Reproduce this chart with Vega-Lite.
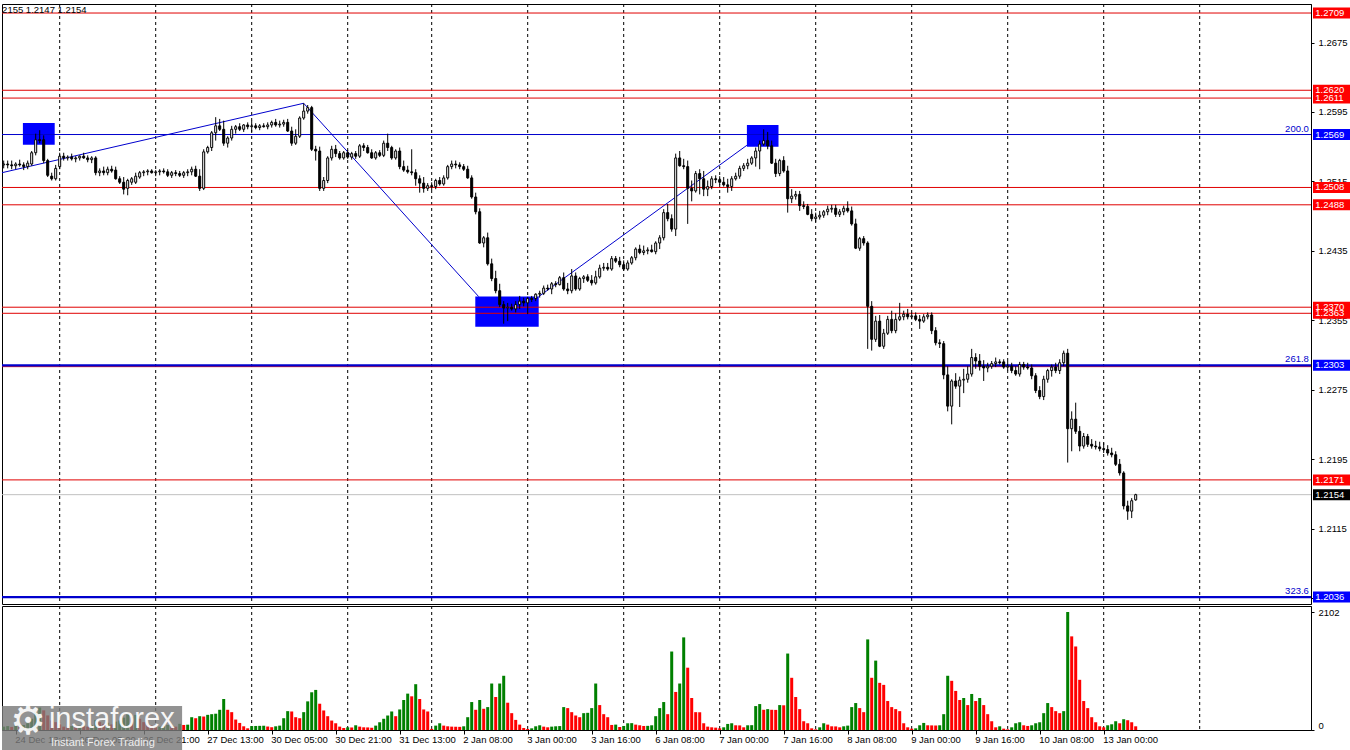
{
"$schema": "https://vega.github.io/schema/vega-lite/v6.json",
"padding": {"left": 0, "top": 3, "right": 0, "bottom": 0},
"background": "white",
"spacing": 2,
"bounds": "flush",
"resolve": {"scale": {"color": "independent"}},
"config": {
  "view": {"stroke": "black", "strokeWidth": 1},
  "axis": {"labelFont": "Liberation Sans", "labelFontSize": 9.5, "labelColor": "black", "domainColor": "black", "tickColor": "black", "grid": false, "tickSize": 3, "labelPadding": 4},
  "text": {"font": "Liberation Sans", "fontSize": 9.5}
},
"datasets": {
"days": [{"d":14},{"d":38},{"d":62},{"d":86},{"d":107},{"d":131},{"d":155},{"d":179},{"d":203},{"d":227},{"d":251},{"d":275},{"d":299}],
"lv": [
{"p":1.2709,"kind":"level"},{"p":1.2620,"kind":"level"},{"p":1.2611,"kind":"level"},{"p":1.2508,"kind":"level"},{"p":1.2488,"kind":"level"},{"p":1.2370,"kind":"level"},{"p":1.2363,"kind":"level"},{"p":1.23015,"kind":"level"},{"p":1.2171,"kind":"level"},
{"p":1.2569,"kind":"fib","f":"200.0"},{"p":1.2303,"kind":"fib","f":"261.8"},{"p":1.2036,"kind":"fib","f":"323.6"},
{"p":1.2154,"kind":"bid"}],
"bx": [
{"p":1.2709,"t":"1.2709","kind":"level"},{"p":1.2611,"t":"1.2611","kind":"level"},{"p":1.2620,"t":"1.2620","kind":"level"},{"p":1.2569,"t":"1.2569","kind":"fib"},{"p":1.2508,"t":"1.2508","kind":"level"},{"p":1.2488,"t":"1.2488","kind":"level"},{"p":1.2363,"t":"1.2363","kind":"level"},{"p":1.2370,"t":"1.2370","kind":"level"},{"p":1.2303,"t":"1.2303","kind":"fib"},{"p":1.2171,"t":"1.2171","kind":"level"},{"p":1.2154,"t":"1.2154","kind":"bid"},{"p":1.2036,"t":"1.2036","kind":"fib"}],
"fr": [
{"x1":4.8,"x2":12.75,"y1":1.25823,"y2":1.25573},
{"x1":185.8,"x2":193.7,"y1":1.25800,"y2":1.25550},
{"x1":117.9,"x2":133.75,"y1":1.23822,"y2":1.23476}],
"tl": [
{"x1":-0.425,"x2":75.0,"y1":1.25250,"y2":1.26050},
{"x1":75.0,"x2":118.75,"y1":1.26050,"y2":1.23822},
{"x1":133.75,"x2":185.8,"y1":1.23822,"y2":1.25566}],
"c": [
{"i":0,"o":1.2534,"h":1.2539,"l":1.2530,"c":1.2535,"v":60},
{"i":1,"o":1.2535,"h":1.2539,"l":1.2530,"c":1.2534,"v":70},
{"i":2,"o":1.2534,"h":1.2539,"l":1.2529,"c":1.2533,"v":55},
{"i":3,"o":1.2533,"h":1.2537,"l":1.2529,"c":1.2535,"v":80},
{"i":4,"o":1.2535,"h":1.2540,"l":1.2532,"c":1.2534,"v":65},
{"i":5,"o":1.2534,"h":1.2537,"l":1.2528,"c":1.2532,"v":90},
{"i":6,"o":1.2532,"h":1.2539,"l":1.2529,"c":1.2536,"v":120},
{"i":7,"o":1.2535,"h":1.2550,"l":1.2533,"c":1.2548,"v":200},
{"i":8,"o":1.2548,"h":1.2570,"l":1.2545,"c":1.2563,"v":330},
{"i":9,"o":1.2563,"h":1.2574,"l":1.2559,"c":1.2562,"v":400},
{"i":10,"o":1.2563,"h":1.2568,"l":1.2536,"c":1.2539,"v":350},
{"i":11,"o":1.2539,"h":1.2541,"l":1.2520,"c":1.2522,"v":260},
{"i":12,"o":1.2521,"h":1.2525,"l":1.2516,"c":1.2518,"v":170},
{"i":13,"o":1.2518,"h":1.2534,"l":1.2516,"c":1.2530,"v":140},
{"i":14,"o":1.2532,"h":1.2548,"l":1.2529,"c":1.2544,"v":100},
{"i":15,"o":1.2544,"h":1.2548,"l":1.2539,"c":1.2542,"v":60},
{"i":16,"o":1.2542,"h":1.2545,"l":1.2539,"c":1.2543,"v":50},
{"i":17,"o":1.2543,"h":1.2547,"l":1.2539,"c":1.2541,"v":70},
{"i":18,"o":1.2541,"h":1.2544,"l":1.2537,"c":1.2542,"v":55},
{"i":19,"o":1.2542,"h":1.2545,"l":1.2539,"c":1.2544,"v":80},
{"i":20,"o":1.2544,"h":1.2548,"l":1.2541,"c":1.2542,"v":70},
{"i":21,"o":1.2542,"h":1.2545,"l":1.2537,"c":1.2540,"v":60},
{"i":22,"o":1.2540,"h":1.2544,"l":1.2536,"c":1.2542,"v":90},
{"i":23,"o":1.2542,"h":1.2544,"l":1.2522,"c":1.2525,"v":180},
{"i":24,"o":1.2525,"h":1.2530,"l":1.2521,"c":1.2527,"v":140},
{"i":25,"o":1.2527,"h":1.2532,"l":1.2522,"c":1.2525,"v":110},
{"i":26,"o":1.2525,"h":1.2532,"l":1.2522,"c":1.2529,"v":130},
{"i":27,"o":1.2529,"h":1.2533,"l":1.2525,"c":1.2527,"v":100},
{"i":28,"o":1.2528,"h":1.2532,"l":1.2517,"c":1.2518,"v":150},
{"i":29,"o":1.2518,"h":1.2521,"l":1.2512,"c":1.2514,"v":170},
{"i":30,"o":1.2514,"h":1.2520,"l":1.2500,"c":1.2506,"v":220},
{"i":31,"o":1.2507,"h":1.2518,"l":1.2499,"c":1.2516,"v":280},
{"i":32,"o":1.2514,"h":1.2520,"l":1.2511,"c":1.2518,"v":230},
{"i":33,"o":1.2514,"h":1.2525,"l":1.2512,"c":1.2521,"v":270},
{"i":34,"o":1.2520,"h":1.2527,"l":1.2518,"c":1.2525,"v":200},
{"i":35,"o":1.2525,"h":1.2528,"l":1.2521,"c":1.2526,"v":140},
{"i":36,"o":1.2526,"h":1.2529,"l":1.2522,"c":1.2527,"v":100},
{"i":37,"o":1.2527,"h":1.2529,"l":1.2524,"c":1.2525,"v":80},
{"i":38,"o":1.2525,"h":1.2528,"l":1.2521,"c":1.2526,"v":50},
{"i":39,"o":1.2526,"h":1.2529,"l":1.2522,"c":1.2527,"v":60},
{"i":40,"o":1.2527,"h":1.2530,"l":1.2524,"c":1.2526,"v":70},
{"i":41,"o":1.2526,"h":1.2529,"l":1.2520,"c":1.2522,"v":90},
{"i":42,"o":1.2522,"h":1.2527,"l":1.2519,"c":1.2525,"v":75},
{"i":43,"o":1.2525,"h":1.2528,"l":1.2521,"c":1.2524,"v":60},
{"i":44,"o":1.2524,"h":1.2527,"l":1.2520,"c":1.2522,"v":110},
{"i":45,"o":1.2522,"h":1.2527,"l":1.2519,"c":1.2525,"v":90},
{"i":46,"o":1.2525,"h":1.2529,"l":1.2521,"c":1.2526,"v":95},
{"i":47,"o":1.2526,"h":1.2532,"l":1.2522,"c":1.2529,"v":228},
{"i":48,"o":1.2529,"h":1.2533,"l":1.2520,"c":1.2521,"v":210},
{"i":49,"o":1.2521,"h":1.2529,"l":1.2504,"c":1.2507,"v":246},
{"i":50,"o":1.2507,"h":1.2552,"l":1.2505,"c":1.2549,"v":240},
{"i":51,"o":1.2549,"h":1.2556,"l":1.2547,"c":1.2554,"v":270},
{"i":52,"o":1.2554,"h":1.2573,"l":1.2550,"c":1.2571,"v":282},
{"i":53,"o":1.2571,"h":1.2589,"l":1.2562,"c":1.2579,"v":290},
{"i":54,"o":1.2579,"h":1.2587,"l":1.2573,"c":1.2575,"v":360},
{"i":55,"o":1.2575,"h":1.2585,"l":1.2556,"c":1.2559,"v":552},
{"i":56,"o":1.2559,"h":1.2567,"l":1.2554,"c":1.2565,"v":360},
{"i":57,"o":1.2565,"h":1.2579,"l":1.2562,"c":1.2575,"v":318},
{"i":58,"o":1.2575,"h":1.2580,"l":1.2570,"c":1.2578,"v":186},
{"i":59,"o":1.2578,"h":1.2582,"l":1.2573,"c":1.2575,"v":126},
{"i":60,"o":1.2575,"h":1.2581,"l":1.2572,"c":1.2580,"v":66},
{"i":61,"o":1.2580,"h":1.2583,"l":1.2575,"c":1.2578,"v":30},
{"i":62,"o":1.2578,"h":1.2585,"l":1.2572,"c":1.2579,"v":70},
{"i":63,"o":1.2579,"h":1.2582,"l":1.2575,"c":1.2577,"v":72},
{"i":64,"o":1.2577,"h":1.2581,"l":1.2574,"c":1.2579,"v":74},
{"i":65,"o":1.2579,"h":1.2582,"l":1.2577,"c":1.2578,"v":76},
{"i":66,"o":1.2578,"h":1.2583,"l":1.2575,"c":1.2580,"v":62},
{"i":67,"o":1.2580,"h":1.2585,"l":1.2577,"c":1.2583,"v":50},
{"i":68,"o":1.2583,"h":1.2587,"l":1.2578,"c":1.2580,"v":66},
{"i":69,"o":1.2580,"h":1.2585,"l":1.2577,"c":1.2581,"v":78},
{"i":70,"o":1.2581,"h":1.2586,"l":1.2578,"c":1.2583,"v":210},
{"i":71,"o":1.2583,"h":1.2587,"l":1.2572,"c":1.2573,"v":336},
{"i":72,"o":1.2573,"h":1.2578,"l":1.2556,"c":1.2559,"v":330},
{"i":73,"o":1.2559,"h":1.2575,"l":1.2557,"c":1.2567,"v":228},
{"i":74,"o":1.2567,"h":1.2590,"l":1.2565,"c":1.2588,"v":210},
{"i":75,"o":1.2588,"h":1.2605,"l":1.2586,"c":1.2596,"v":318},
{"i":76,"o":1.2596,"h":1.2603,"l":1.2593,"c":1.2600,"v":510},
{"i":77,"o":1.2600,"h":1.2602,"l":1.2550,"c":1.2552,"v":672},
{"i":78,"o":1.2552,"h":1.2556,"l":1.2539,"c":1.2550,"v":714},
{"i":79,"o":1.2550,"h":1.2555,"l":1.2504,"c":1.2507,"v":468},
{"i":80,"o":1.2507,"h":1.2520,"l":1.2504,"c":1.2516,"v":348},
{"i":81,"o":1.2516,"h":1.2544,"l":1.2513,"c":1.2542,"v":246},
{"i":82,"o":1.2542,"h":1.2556,"l":1.2539,"c":1.2552,"v":168},
{"i":83,"o":1.2552,"h":1.2557,"l":1.2543,"c":1.2547,"v":120},
{"i":84,"o":1.2547,"h":1.2550,"l":1.2540,"c":1.2542,"v":60},
{"i":85,"o":1.2542,"h":1.2550,"l":1.2540,"c":1.2548,"v":36},
{"i":86,"o":1.2548,"h":1.2551,"l":1.2541,"c":1.2543,"v":48},
{"i":87,"o":1.2543,"h":1.2549,"l":1.2540,"c":1.2547,"v":45},
{"i":88,"o":1.2547,"h":1.2550,"l":1.2541,"c":1.2544,"v":84},
{"i":89,"o":1.2544,"h":1.2558,"l":1.2542,"c":1.2556,"v":60},
{"i":90,"o":1.2556,"h":1.2559,"l":1.2550,"c":1.2554,"v":48},
{"i":91,"o":1.2554,"h":1.2557,"l":1.2547,"c":1.2548,"v":46},
{"i":92,"o":1.2548,"h":1.2552,"l":1.2541,"c":1.2542,"v":40},
{"i":93,"o":1.2542,"h":1.2550,"l":1.2540,"c":1.2548,"v":78},
{"i":94,"o":1.2548,"h":1.2551,"l":1.2543,"c":1.2545,"v":138},
{"i":95,"o":1.2545,"h":1.2562,"l":1.2543,"c":1.2559,"v":200},
{"i":96,"o":1.2559,"h":1.2570,"l":1.2550,"c":1.2554,"v":258},
{"i":97,"o":1.2554,"h":1.2556,"l":1.2540,"c":1.2542,"v":330},
{"i":98,"o":1.2542,"h":1.2552,"l":1.2540,"c":1.2550,"v":246},
{"i":99,"o":1.2550,"h":1.2554,"l":1.2529,"c":1.2532,"v":366},
{"i":100,"o":1.2532,"h":1.2539,"l":1.2526,"c":1.2528,"v":534},
{"i":101,"o":1.2528,"h":1.2533,"l":1.2524,"c":1.2526,"v":648},
{"i":102,"o":1.2526,"h":1.2552,"l":1.2522,"c":1.2525,"v":600},
{"i":103,"o":1.2525,"h":1.2529,"l":1.2510,"c":1.2518,"v":816},
{"i":104,"o":1.2518,"h":1.2522,"l":1.2502,"c":1.2513,"v":552},
{"i":105,"o":1.2513,"h":1.2520,"l":1.2502,"c":1.2507,"v":366},
{"i":106,"o":1.2507,"h":1.2513,"l":1.2504,"c":1.2510,"v":330},
{"i":107,"o":1.2510,"h":1.2514,"l":1.2505,"c":1.2509,"v":20},
{"i":108,"o":1.2509,"h":1.2518,"l":1.2506,"c":1.2516,"v":78},
{"i":109,"o":1.2516,"h":1.2520,"l":1.2510,"c":1.2512,"v":120},
{"i":110,"o":1.2512,"h":1.2522,"l":1.2510,"c":1.2519,"v":78},
{"i":111,"o":1.2519,"h":1.2534,"l":1.2517,"c":1.2532,"v":66},
{"i":112,"o":1.2532,"h":1.2539,"l":1.2529,"c":1.2535,"v":60},
{"i":113,"o":1.2535,"h":1.2539,"l":1.2530,"c":1.2534,"v":58},
{"i":114,"o":1.2534,"h":1.2537,"l":1.2529,"c":1.2532,"v":56},
{"i":115,"o":1.2532,"h":1.2535,"l":1.2527,"c":1.2529,"v":66},
{"i":116,"o":1.2529,"h":1.2533,"l":1.2518,"c":1.2519,"v":228},
{"i":117,"o":1.2519,"h":1.2522,"l":1.2495,"c":1.2497,"v":498},
{"i":118,"o":1.2497,"h":1.2502,"l":1.2477,"c":1.2480,"v":360},
{"i":119,"o":1.2480,"h":1.2484,"l":1.2443,"c":1.2444,"v":534},
{"i":120,"o":1.2444,"h":1.2452,"l":1.2439,"c":1.2450,"v":378},
{"i":121,"o":1.2450,"h":1.2456,"l":1.2418,"c":1.2420,"v":408},
{"i":122,"o":1.2420,"h":1.2426,"l":1.2400,"c":1.2403,"v":828},
{"i":123,"o":1.2403,"h":1.2412,"l":1.2386,"c":1.2389,"v":588},
{"i":124,"o":1.2389,"h":1.2397,"l":1.2370,"c":1.2373,"v":828},
{"i":125,"o":1.2373,"h":1.2377,"l":1.2351,"c":1.2369,"v":966},
{"i":126,"o":1.2369,"h":1.2375,"l":1.2354,"c":1.2370,"v":486},
{"i":127,"o":1.2370,"h":1.2374,"l":1.2366,"c":1.2368,"v":300},
{"i":128,"o":1.2368,"h":1.2377,"l":1.2364,"c":1.2373,"v":180},
{"i":129,"o":1.2373,"h":1.2383,"l":1.2368,"c":1.2377,"v":96},
{"i":130,"o":1.2377,"h":1.2381,"l":1.2371,"c":1.2375,"v":36},
{"i":131,"o":1.2375,"h":1.2382,"l":1.2362,"c":1.2380,"v":18},
{"i":132,"o":1.2380,"h":1.2383,"l":1.2376,"c":1.2379,"v":30},
{"i":133,"o":1.2380,"h":1.2386,"l":1.2377,"c":1.2385,"v":66},
{"i":134,"o":1.2385,"h":1.2389,"l":1.2381,"c":1.2386,"v":84},
{"i":135,"o":1.2386,"h":1.2395,"l":1.2384,"c":1.2392,"v":60},
{"i":136,"o":1.2392,"h":1.2396,"l":1.2389,"c":1.2391,"v":48},
{"i":137,"o":1.2391,"h":1.2399,"l":1.2385,"c":1.2397,"v":60},
{"i":138,"o":1.2397,"h":1.2400,"l":1.2393,"c":1.2396,"v":66},
{"i":139,"o":1.2396,"h":1.2406,"l":1.2395,"c":1.2404,"v":70},
{"i":140,"o":1.2404,"h":1.2410,"l":1.2389,"c":1.2391,"v":408},
{"i":141,"o":1.2391,"h":1.2398,"l":1.2385,"c":1.2389,"v":390},
{"i":142,"o":1.2389,"h":1.2414,"l":1.2386,"c":1.2406,"v":318},
{"i":143,"o":1.2406,"h":1.2410,"l":1.2389,"c":1.2391,"v":258},
{"i":144,"o":1.2391,"h":1.2405,"l":1.2389,"c":1.2403,"v":228},
{"i":145,"o":1.2403,"h":1.2407,"l":1.2398,"c":1.2405,"v":300},
{"i":146,"o":1.2405,"h":1.2408,"l":1.2399,"c":1.2401,"v":306},
{"i":147,"o":1.2401,"h":1.2407,"l":1.2395,"c":1.2398,"v":390},
{"i":148,"o":1.2398,"h":1.2412,"l":1.2396,"c":1.2405,"v":828},
{"i":149,"o":1.2405,"h":1.2419,"l":1.2403,"c":1.2415,"v":444},
{"i":150,"o":1.2415,"h":1.2421,"l":1.2412,"c":1.2416,"v":282},
{"i":151,"o":1.2416,"h":1.2421,"l":1.2412,"c":1.2414,"v":228},
{"i":152,"o":1.2414,"h":1.2429,"l":1.2412,"c":1.2426,"v":90},
{"i":153,"o":1.2426,"h":1.2429,"l":1.2421,"c":1.2423,"v":96},
{"i":154,"o":1.2423,"h":1.2428,"l":1.2416,"c":1.2419,"v":54},
{"i":155,"o":1.2419,"h":1.2424,"l":1.2412,"c":1.2414,"v":72},
{"i":156,"o":1.2414,"h":1.2424,"l":1.2412,"c":1.2421,"v":120},
{"i":157,"o":1.2421,"h":1.2429,"l":1.2419,"c":1.2427,"v":122},
{"i":158,"o":1.2427,"h":1.2439,"l":1.2424,"c":1.2437,"v":96},
{"i":159,"o":1.2437,"h":1.2442,"l":1.2431,"c":1.2433,"v":84},
{"i":160,"o":1.2433,"h":1.2441,"l":1.2430,"c":1.2435,"v":72},
{"i":161,"o":1.2435,"h":1.2439,"l":1.2431,"c":1.2436,"v":74},
{"i":162,"o":1.2436,"h":1.2442,"l":1.2433,"c":1.2434,"v":84},
{"i":163,"o":1.2434,"h":1.2446,"l":1.2431,"c":1.2444,"v":246},
{"i":164,"o":1.2444,"h":1.2453,"l":1.2437,"c":1.2450,"v":390},
{"i":165,"o":1.2450,"h":1.2483,"l":1.2447,"c":1.2479,"v":498},
{"i":166,"o":1.2479,"h":1.2489,"l":1.2469,"c":1.2472,"v":282},
{"i":167,"o":1.2472,"h":1.2477,"l":1.2457,"c":1.2460,"v":1398},
{"i":168,"o":1.2460,"h":1.2547,"l":1.2452,"c":1.2542,"v":678},
{"i":169,"o":1.2542,"h":1.2550,"l":1.2532,"c":1.2533,"v":828},
{"i":170,"o":1.2533,"h":1.2541,"l":1.2529,"c":1.2532,"v":1650},
{"i":171,"o":1.2532,"h":1.2539,"l":1.2466,"c":1.2507,"v":1110},
{"i":172,"o":1.2507,"h":1.2516,"l":1.2492,"c":1.2504,"v":570},
{"i":173,"o":1.2504,"h":1.2527,"l":1.2502,"c":1.2524,"v":318},
{"i":174,"o":1.2524,"h":1.2529,"l":1.2500,"c":1.2518,"v":316},
{"i":175,"o":1.2518,"h":1.2527,"l":1.2498,"c":1.2506,"v":120},
{"i":176,"o":1.2506,"h":1.2516,"l":1.2498,"c":1.2509,"v":60},
{"i":177,"o":1.2509,"h":1.2521,"l":1.2506,"c":1.2518,"v":48},
{"i":178,"o":1.2518,"h":1.2522,"l":1.2513,"c":1.2517,"v":42},
{"i":179,"o":1.2517,"h":1.2521,"l":1.2511,"c":1.2514,"v":30},
{"i":180,"o":1.2514,"h":1.2520,"l":1.2509,"c":1.2511,"v":48},
{"i":181,"o":1.2511,"h":1.2518,"l":1.2502,"c":1.2509,"v":108},
{"i":182,"o":1.2509,"h":1.2521,"l":1.2504,"c":1.2518,"v":120},
{"i":183,"o":1.2518,"h":1.2525,"l":1.2516,"c":1.2521,"v":84},
{"i":184,"o":1.2521,"h":1.2533,"l":1.2518,"c":1.2530,"v":82},
{"i":185,"o":1.2530,"h":1.2536,"l":1.2527,"c":1.2533,"v":48},
{"i":186,"o":1.2533,"h":1.2541,"l":1.2529,"c":1.2536,"v":84},
{"i":187,"o":1.2536,"h":1.2544,"l":1.2534,"c":1.2542,"v":86},
{"i":188,"o":1.2542,"h":1.2554,"l":1.2532,"c":1.2550,"v":426},
{"i":189,"o":1.2550,"h":1.2562,"l":1.2529,"c":1.2558,"v":462},
{"i":190,"o":1.2558,"h":1.2575,"l":1.2556,"c":1.2562,"v":360},
{"i":191,"o":1.2562,"h":1.2572,"l":1.2552,"c":1.2556,"v":372},
{"i":192,"o":1.2556,"h":1.2562,"l":1.2535,"c":1.2536,"v":360},
{"i":193,"o":1.2536,"h":1.2541,"l":1.2520,"c":1.2524,"v":358},
{"i":194,"o":1.2524,"h":1.2541,"l":1.2521,"c":1.2539,"v":444},
{"i":195,"o":1.2539,"h":1.2544,"l":1.2525,"c":1.2527,"v":440},
{"i":196,"o":1.2527,"h":1.2533,"l":1.2479,"c":1.2495,"v":1362},
{"i":197,"o":1.2495,"h":1.2506,"l":1.2490,"c":1.2498,"v":930},
{"i":198,"o":1.2498,"h":1.2504,"l":1.2494,"c":1.2500,"v":588},
{"i":199,"o":1.2500,"h":1.2504,"l":1.2481,"c":1.2487,"v":372},
{"i":200,"o":1.2487,"h":1.2492,"l":1.2483,"c":1.2486,"v":156},
{"i":201,"o":1.2486,"h":1.2489,"l":1.2476,"c":1.2477,"v":120},
{"i":202,"o":1.2477,"h":1.2483,"l":1.2469,"c":1.2472,"v":30},
{"i":203,"o":1.2472,"h":1.2479,"l":1.2468,"c":1.2474,"v":12},
{"i":204,"o":1.2474,"h":1.2481,"l":1.2471,"c":1.2476,"v":48},
{"i":205,"o":1.2476,"h":1.2482,"l":1.2473,"c":1.2480,"v":120},
{"i":206,"o":1.2480,"h":1.2487,"l":1.2476,"c":1.2483,"v":96},
{"i":207,"o":1.2483,"h":1.2488,"l":1.2479,"c":1.2484,"v":66},
{"i":208,"o":1.2484,"h":1.2488,"l":1.2474,"c":1.2477,"v":64},
{"i":209,"o":1.2477,"h":1.2483,"l":1.2474,"c":1.2480,"v":48},
{"i":210,"o":1.2480,"h":1.2487,"l":1.2476,"c":1.2484,"v":66},
{"i":211,"o":1.2484,"h":1.2492,"l":1.2479,"c":1.2481,"v":78},
{"i":212,"o":1.2481,"h":1.2486,"l":1.2464,"c":1.2466,"v":408},
{"i":213,"o":1.2466,"h":1.2472,"l":1.2437,"c":1.2438,"v":480},
{"i":214,"o":1.2438,"h":1.2451,"l":1.2435,"c":1.2449,"v":390},
{"i":215,"o":1.2449,"h":1.2452,"l":1.2441,"c":1.2444,"v":318},
{"i":216,"o":1.2444,"h":1.2446,"l":1.2322,"c":1.2371,"v":1614},
{"i":217,"o":1.2371,"h":1.2377,"l":1.2320,"c":1.2333,"v":930},
{"i":218,"o":1.2333,"h":1.2360,"l":1.2330,"c":1.2354,"v":1236},
{"i":219,"o":1.2354,"h":1.2361,"l":1.2324,"c":1.2325,"v":840},
{"i":220,"o":1.2325,"h":1.2345,"l":1.2322,"c":1.2340,"v":804},
{"i":221,"o":1.2340,"h":1.2360,"l":1.2338,"c":1.2356,"v":516},
{"i":222,"o":1.2356,"h":1.2366,"l":1.2340,"c":1.2343,"v":408},
{"i":223,"o":1.2343,"h":1.2363,"l":1.2340,"c":1.2356,"v":372},
{"i":224,"o":1.2356,"h":1.2375,"l":1.2354,"c":1.2359,"v":336},
{"i":225,"o":1.2359,"h":1.2366,"l":1.2355,"c":1.2362,"v":120},
{"i":226,"o":1.2362,"h":1.2368,"l":1.2356,"c":1.2359,"v":48},
{"i":227,"o":1.2359,"h":1.2364,"l":1.2356,"c":1.2360,"v":24},
{"i":228,"o":1.2360,"h":1.2364,"l":1.2354,"c":1.2356,"v":30},
{"i":229,"o":1.2356,"h":1.2361,"l":1.2345,"c":1.2354,"v":84},
{"i":230,"o":1.2354,"h":1.2362,"l":1.2352,"c":1.2359,"v":126},
{"i":231,"o":1.2359,"h":1.2364,"l":1.2356,"c":1.2361,"v":84},
{"i":232,"o":1.2361,"h":1.2364,"l":1.2339,"c":1.2343,"v":82},
{"i":233,"o":1.2343,"h":1.2347,"l":1.2326,"c":1.2329,"v":80},
{"i":234,"o":1.2329,"h":1.2333,"l":1.2323,"c":1.2328,"v":84},
{"i":235,"o":1.2328,"h":1.2331,"l":1.2287,"c":1.2292,"v":282},
{"i":236,"o":1.2292,"h":1.2302,"l":1.2250,"c":1.2256,"v":966},
{"i":237,"o":1.2256,"h":1.2287,"l":1.2235,"c":1.2285,"v":876},
{"i":238,"o":1.2285,"h":1.2294,"l":1.2276,"c":1.2279,"v":696},
{"i":239,"o":1.2279,"h":1.2290,"l":1.2255,"c":1.2286,"v":534},
{"i":240,"o":1.2286,"h":1.2299,"l":1.2271,"c":1.2287,"v":570},
{"i":241,"o":1.2287,"h":1.2302,"l":1.2283,"c":1.2293,"v":444},
{"i":242,"o":1.2293,"h":1.2322,"l":1.2290,"c":1.2312,"v":642},
{"i":243,"o":1.2312,"h":1.2317,"l":1.2299,"c":1.2308,"v":516},
{"i":244,"o":1.2308,"h":1.2316,"l":1.2297,"c":1.2302,"v":570},
{"i":245,"o":1.2302,"h":1.2309,"l":1.2285,"c":1.2300,"v":444},
{"i":246,"o":1.2300,"h":1.2306,"l":1.2295,"c":1.2302,"v":282},
{"i":247,"o":1.2302,"h":1.2308,"l":1.2299,"c":1.2305,"v":156},
{"i":248,"o":1.2305,"h":1.2312,"l":1.2301,"c":1.2307,"v":48},
{"i":249,"o":1.2307,"h":1.2310,"l":1.2304,"c":1.2306,"v":66},
{"i":250,"o":1.2307,"h":1.2310,"l":1.2299,"c":1.2301,"v":24},
{"i":251,"o":1.2301,"h":1.2308,"l":1.2297,"c":1.2302,"v":12},
{"i":252,"o":1.2302,"h":1.2306,"l":1.2294,"c":1.2297,"v":48},
{"i":253,"o":1.2297,"h":1.2302,"l":1.2291,"c":1.2293,"v":120},
{"i":254,"o":1.2293,"h":1.2307,"l":1.2290,"c":1.2304,"v":138},
{"i":255,"o":1.2304,"h":1.2307,"l":1.2298,"c":1.2301,"v":84},
{"i":256,"o":1.2301,"h":1.2306,"l":1.2298,"c":1.2300,"v":72},
{"i":257,"o":1.2300,"h":1.2304,"l":1.2287,"c":1.2291,"v":84},
{"i":258,"o":1.2291,"h":1.2294,"l":1.2271,"c":1.2274,"v":120},
{"i":259,"o":1.2274,"h":1.2279,"l":1.2264,"c":1.2267,"v":138},
{"i":260,"o":1.2267,"h":1.2291,"l":1.2263,"c":1.2287,"v":300},
{"i":261,"o":1.2287,"h":1.2299,"l":1.2283,"c":1.2297,"v":480},
{"i":262,"o":1.2297,"h":1.2304,"l":1.2290,"c":1.2301,"v":408},
{"i":263,"o":1.2301,"h":1.2306,"l":1.2294,"c":1.2297,"v":336},
{"i":264,"o":1.2297,"h":1.2310,"l":1.2293,"c":1.2306,"v":300},
{"i":265,"o":1.2306,"h":1.2320,"l":1.2302,"c":1.2317,"v":336},
{"i":266,"o":1.2317,"h":1.2322,"l":1.2191,"c":1.2230,"v":2102},
{"i":267,"o":1.2230,"h":1.2250,"l":1.2204,"c":1.2241,"v":1668},
{"i":268,"o":1.2241,"h":1.2260,"l":1.2224,"c":1.2227,"v":1488},
{"i":269,"o":1.2227,"h":1.2233,"l":1.2204,"c":1.2210,"v":894},
{"i":270,"o":1.2210,"h":1.2225,"l":1.2207,"c":1.2221,"v":516},
{"i":271,"o":1.2221,"h":1.2224,"l":1.2209,"c":1.2212,"v":390},
{"i":272,"o":1.2212,"h":1.2218,"l":1.2207,"c":1.2210,"v":228},
{"i":273,"o":1.2210,"h":1.2216,"l":1.2206,"c":1.2209,"v":138},
{"i":274,"o":1.2209,"h":1.2215,"l":1.2204,"c":1.2207,"v":66},
{"i":275,"o":1.2207,"h":1.2214,"l":1.2202,"c":1.2206,"v":48},
{"i":276,"o":1.2206,"h":1.2211,"l":1.2199,"c":1.2202,"v":84},
{"i":277,"o":1.2202,"h":1.2208,"l":1.2197,"c":1.2200,"v":102},
{"i":278,"o":1.2200,"h":1.2204,"l":1.2187,"c":1.2189,"v":156},
{"i":279,"o":1.2189,"h":1.2195,"l":1.2176,"c":1.2179,"v":120},
{"i":280,"o":1.2179,"h":1.2181,"l":1.2137,"c":1.2141,"v":192},
{"i":281,"o":1.2141,"h":1.2147,"l":1.2125,"c":1.2135,"v":174},
{"i":282,"o":1.2135,"h":1.2150,"l":1.2127,"c":1.2147,"v":138},
{"i":283,"o":1.2148,"h":1.2155,"l":1.2147,"c":1.2154,"v":66}
]
},
"vconcat": [
{
  "width": 1309,
  "height": 600,
  "layer": [
    {"data": {"name": "days"}, "mark": {"type": "rule", "color": "black", "strokeDash": [3, 3], "strokeWidth": 1},
     "encoding": {"x": {"field": "d", "type": "quantitative", "axis": null, "title": null, "scale": {"domain": [-0.425, 326.825], "nice": false, "zero": false, "padding": 0}}}},
    {"data": {"name": "fr"}, "mark": {"type": "rect", "color": "#0000ff"},
     "encoding": {
       "x": {"field": "x1", "type": "quantitative", "axis": null, "title": null}, "x2": {"field": "x2"},
       "y": {"field": "y1", "type": "quantitative", "title": null,
             "scale": {"domain": [1.2028, 1.27194], "nice": false, "zero": false, "padding": 0},
             "axis": {"orient": "right", "values": [1.2715,1.2675,1.2635,1.2595,1.2555,1.2515,1.2475,1.2435,1.2395,1.2355,1.2315,1.2275,1.2235,1.2195,1.2155,1.2115,1.2075,1.2035], "format": ".4f", "labelOverlap": false, "labelFlush": false, "title": null}},
       "y2": {"field": "y2"}}},
    {"data": {"name": "lv"}, "transform": [{"filter": "datum.kind == 'level'"}], "mark": {"type": "rule", "color": "#e00000", "strokeWidth": 1},
     "encoding": {"y": {"field": "p", "type": "quantitative", "title": null}}},
    {"data": {"name": "lv"}, "transform": [{"filter": "datum.kind == 'bid'"}], "mark": {"type": "rule", "color": "#c0c0c0", "strokeWidth": 1},
     "encoding": {"y": {"field": "p", "type": "quantitative", "title": null}}},
    {"data": {"name": "lv"}, "transform": [{"filter": "datum.kind == 'fib'"}], "mark": {"type": "rule", "color": "#0000cd"},
     "encoding": {"y": {"field": "p", "type": "quantitative", "title": null},
                  "strokeWidth": {"condition": {"test": "datum.p < 1.25", "value": 2.2}, "value": 1}}},
    {"data": {"name": "tl"}, "mark": {"type": "rule", "color": "#0000cd", "strokeWidth": 1},
     "encoding": {"x": {"field": "x1", "type": "quantitative", "axis": null, "title": null}, "x2": {"field": "x2"},
                  "y": {"field": "y1", "type": "quantitative", "title": null}, "y2": {"field": "y2"}}},
    {"data": {"name": "c"}, "mark": {"type": "rule", "color": "black", "strokeWidth": 1},
     "encoding": {"x": {"field": "i", "type": "quantitative", "axis": null, "title": null},
                  "y": {"field": "l", "type": "quantitative", "title": null}, "y2": {"field": "h"}}},
    {"data": {"name": "c"}, "mark": {"type": "bar", "size": 2, "stroke": "black", "strokeWidth": 1},
     "encoding": {"x": {"field": "i", "type": "quantitative", "axis": null, "title": null},
                  "y": {"field": "o", "type": "quantitative", "title": null}, "y2": {"field": "c"},
                  "fill": {"condition": {"test": "datum.c >= datum.o", "value": "white"}, "value": "black"}}},
    {"data": {"name": "lv"}, "transform": [{"filter": "datum.kind == 'fib'"}],
     "mark": {"type": "text", "align": "right", "baseline": "bottom", "dy": -1, "color": "#0000cd", "fontSize": 9.5},
     "encoding": {"x": {"datum": 326.3, "type": "quantitative", "axis": null}, "y": {"field": "p", "type": "quantitative", "title": null}, "text": {"field": "f"}}},
    {"data": {"name": "bx"}, "mark": {"type": "tick", "orient": "horizontal", "size": 39, "thickness": 11, "opacity": 1},
     "encoding": {"x": {"datum": 332.2, "type": "quantitative", "axis": null}, "y": {"field": "p", "type": "quantitative", "title": null},
                  "color": {"field": "kind", "type": "nominal", "legend": null, "scale": {"domain": ["level", "fib", "bid"], "range": ["#ff0000", "#0000ff", "#000000"]}}}},
    {"data": {"name": "bx"}, "mark": {"type": "text", "align": "left", "baseline": "middle", "color": "white", "fontSize": 9.5},
     "encoding": {"x": {"datum": 327.9, "type": "quantitative", "axis": null}, "y": {"field": "p", "type": "quantitative", "title": null}, "text": {"field": "t"}}},
    {"data": {"values": [{"t": "2155 1.2147 1.2154"}]}, "mark": {"type": "text", "align": "left", "baseline": "middle", "color": "black", "fontSize": 9.5},
     "encoding": {"x": {"datum": -0.4, "type": "quantitative", "axis": null}, "y": {"datum": 1.2712, "type": "quantitative"}, "text": {"field": "t"}}}
  ]
},
{
  "width": 1309,
  "height": 124,
  "layer": [
    {"data": {"name": "days"}, "mark": {"type": "rule", "color": "black", "strokeDash": [3, 3], "strokeWidth": 1},
     "encoding": {"x": {"field": "d", "type": "quantitative", "title": null}}},
    {"data": {"name": "c"},
     "transform": [
       {"window": [{"op": "lag", "field": "v", "as": "pv"}], "sort": [{"field": "i", "order": "ascending"}]},
       {"calculate": "datum.pv == null || datum.v > datum.pv ? 'up' : 'down'", "as": "dir"}
     ],
     "mark": {"type": "bar", "size": 3},
     "encoding": {
       "x": {"field": "i", "type": "quantitative", "title": null,
             "scale": {"domain": [-0.425, 326.825], "nice": false, "zero": false, "padding": 0},
             "axis": {"orient": "bottom", "values": [3,19,35,51,67,83,99,115,131,147,163,179,195,211,227,243,259,275],
                      "labelExpr": "['24 Dec 13:00','26 Dec 05:00','26 Dec 21:00','27 Dec 13:00','30 Dec 05:00','30 Dec 21:00','31 Dec 13:00','2 Jan 08:00','3 Jan 00:00','3 Jan 16:00','6 Jan 08:00','7 Jan 00:00','7 Jan 16:00','8 Jan 08:00','9 Jan 00:00','9 Jan 16:00','10 Jan 08:00','13 Jan 00:00'][floor((datum.value - 3) / 16)]",
                      "labelAlign": "left", "labelBaseline": "top", "labelOffset": -1, "tickSize": 4, "labelPadding": 0, "labelOverlap": false, "labelFlush": false, "title": null}},
       "y": {"field": "v", "type": "quantitative", "title": null,
             "scale": {"domain": [0, 2209], "nice": false, "zero": true, "padding": 0},
             "axis": {"orient": "right", "values": [0, 2102], "format": "d", "labelFlush": true, "labelOverlap": false, "title": null}},
       "color": {"field": "dir", "type": "nominal", "legend": null, "scale": {"domain": ["up", "down"], "range": ["#008000", "#ff0000"]}}
     }},
    {"data": {"values": [{"k": "logo"}]}, "mark": {"type": "rect", "color": "#7a7a7a", "opacity": 0.82},
     "encoding": {"x": {"datum": -0.425, "type": "quantitative"}, "x2": {"datum": 44.6}, "y": {"datum": 427, "type": "quantitative"}, "y2": {"datum": -374}}},
    {"data": {"values": [{"t": "⚙"}]}, "mark": {"type": "text", "align": "center", "baseline": "middle", "color": "white", "font": "DejaVu Sans", "fontSize": 40, "opacity": 0.9},
     "encoding": {"x": {"datum": 6.1, "type": "quantitative"}, "y": {"datum": 140, "type": "quantitative"}, "text": {"field": "t"}}},
    {"data": {"values": [{"t": "instaforex"}]}, "mark": {"type": "text", "align": "left", "baseline": "alphabetic", "color": "white", "font": "Liberation Sans", "fontSize": 29, "opacity": 0.92},
     "encoding": {"x": {"datum": 11.3, "type": "quantitative"}, "y": {"datum": 36, "type": "quantitative"}, "text": {"field": "t"}}},
    {"data": {"values": [{"t": "Instant Forex Trading"}]}, "mark": {"type": "text", "align": "left", "baseline": "alphabetic", "color": "white", "font": "Liberation Sans", "fontSize": 11, "opacity": 0.85},
     "encoding": {"x": {"datum": 11.8, "type": "quantitative"}, "y": {"datum": -285, "type": "quantitative"}, "text": {"field": "t"}}}
  ]
}
]
}
